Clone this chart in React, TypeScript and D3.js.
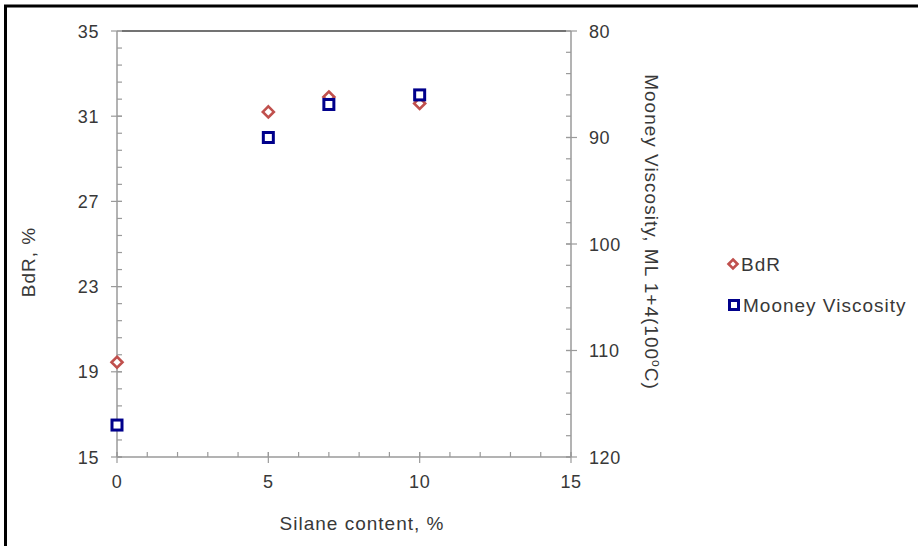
import React from 'react';
import * as d3 from 'd3';

// silane content (%) for each sample
const silane = [0, 5, 7, 10];
const bdr = [19.45, 31.2, 31.9, 31.6];
const mooney = [117.0, 90.0, 86.9, 86.0];

const xTicks = [0, 5, 10, 15];
const leftTicks = [15, 19, 23, 27, 31, 35];
const rightTicks = [80, 90, 100, 110, 120];

const W = 918;
const H = 546;
const plot = { left: 117, right: 571, top: 31, bottom: 457 };
const font = '"Liberation Sans", Arial, sans-serif';
const txt = '#383838';
const axisCol = '#9a9a9a';
const red = '#c0504d';
const blue = '#00008b';

function minor(lo: number, hi: number, step: number) {
  return d3.range(lo, hi + step / 2, step);
}

function Diamond({ x, y, r = 5.5 }: { x: number; y: number; r?: number }) {
  return (
    <path
      d={`M${x},${y - r}L${x + r},${y}L${x},${y + r}L${x - r},${y}Z`}
      fill="white"
      stroke={red}
      strokeWidth={2.6}
    />
  );
}

function Square({ x, y, s = 10 }: { x: number; y: number; s?: number }) {
  return (
    <rect x={x - s / 2} y={y - s / 2} width={s} height={s} fill="white" stroke={blue} strokeWidth={3} />
  );
}

export default function App() {
  const x = d3.scaleLinear().domain([0, 15]).range([plot.left, plot.right]);
  const yL = d3.scaleLinear().domain([15, 35]).range([plot.bottom, plot.top]);
  const yR = d3.scaleLinear().domain([80, 120]).range([plot.top, plot.bottom]);

  const tickText = { fontSize: 18, fill: txt, letterSpacing: 0.6 };
  const titleText = { fontSize: 19, fill: txt, letterSpacing: 1 };

  return (
    <svg
      width={W}
      height={H}
      style={{ position: 'absolute', left: 0, top: 0, background: 'white' }}
      fontFamily={font}
    >
      {/* outer frame */}
      <path d={`M5.5,${H}V6H${W}`} fill="none" stroke="black" strokeWidth={3} />

      {/* top plot edge */}
      <line x1={plot.left + 5} x2={plot.right - 5} y1={plot.top} y2={plot.top} stroke="#444" strokeWidth={1.5} />

      {/* x axis */}
      <line x1={plot.left} x2={plot.right} y1={plot.bottom} y2={plot.bottom} stroke={axisCol} strokeWidth={1.5} />
      {minor(0, 15, 1).map(v => (
        <line key={'xm' + v} x1={x(v)} x2={x(v)} y1={plot.bottom - 5} y2={plot.bottom} stroke={axisCol} strokeWidth={1.2} />
      ))}
      {xTicks.map(v => (
        <g key={'x' + v}>
          <line x1={x(v)} x2={x(v)} y1={plot.bottom - 5} y2={plot.bottom + 6} stroke={axisCol} strokeWidth={1.2} />
          <text x={x(v)} y={plot.bottom + 31} textAnchor="middle" {...tickText}>{v}</text>
        </g>
      ))}

      {/* left axis */}
      <line x1={plot.left} x2={plot.left} y1={plot.top} y2={plot.bottom} stroke={axisCol} strokeWidth={1.5} />
      {minor(15, 35, 0.8).map(v => (
        <line key={'lm' + v} x1={plot.left} x2={plot.left + 5} y1={yL(v)} y2={yL(v)} stroke={axisCol} strokeWidth={1.2} />
      ))}
      {leftTicks.map(v => (
        <g key={'l' + v}>
          <line x1={plot.left - 6} x2={plot.left + 5} y1={yL(v)} y2={yL(v)} stroke={axisCol} strokeWidth={1.2} />
          <text x={plot.left - 18} y={yL(v) + 6.5} textAnchor="end" {...tickText}>{v}</text>
        </g>
      ))}

      {/* right axis */}
      <line x1={plot.right} x2={plot.right} y1={plot.top} y2={plot.bottom} stroke={axisCol} strokeWidth={1.5} />
      {minor(80, 120, 2).map(v => (
        <line key={'rm' + v} x1={plot.right - 5} x2={plot.right} y1={yR(v)} y2={yR(v)} stroke={axisCol} strokeWidth={1.2} />
      ))}
      {rightTicks.map(v => (
        <g key={'r' + v}>
          <line x1={plot.right - 5} x2={plot.right + 6} y1={yR(v)} y2={yR(v)} stroke={axisCol} strokeWidth={1.2} />
          <text x={plot.right + 18} y={yR(v) + 6.5} textAnchor="start" {...tickText}>{v}</text>
        </g>
      ))}

      {/* axis titles */}
      <text x={362} y={530} textAnchor="middle" {...titleText}>Silane content, %</text>
      <text transform="translate(35,262) rotate(-90)" textAnchor="middle" {...titleText}>BdR, %</text>
      <text transform="translate(645,232) rotate(90)" textAnchor="middle" {...titleText}>
        Mooney Viscosity, ML 1+4(100<tspan dy={-7} fontSize={12}>o</tspan><tspan dy={7}>C)</tspan>
      </text>

      {/* data */}
      {silane.map((s, i) => (
        <Diamond key={'b' + i} x={x(s)} y={yL(bdr[i])} />
      ))}
      {silane.map((s, i) => (
        <Square key={'m' + i} x={x(s)} y={yR(mooney[i])} />
      ))}

      {/* legend */}
      <Diamond x={733} y={264} r={4.5} />
      <text x={741} y={271} {...titleText}>BdR</text>
      <Square x={734} y={305} s={9} />
      <text x={743} y={312} {...titleText}>Mooney Viscosity</text>
    </svg>
  );
}
